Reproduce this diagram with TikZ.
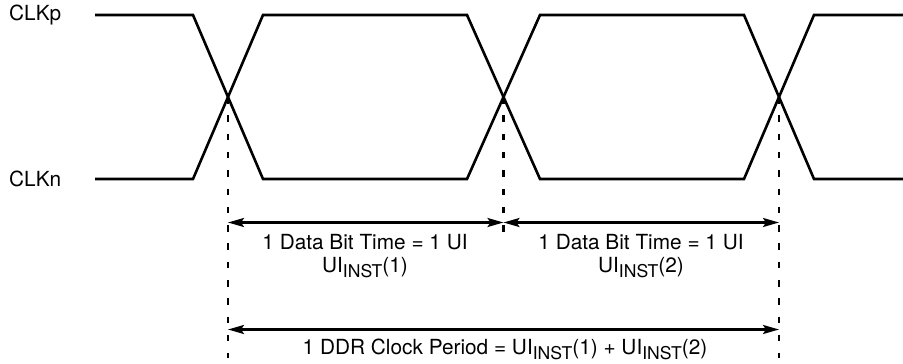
\documentclass[tikz,border=0pt]{standalone}
\usepackage{fontspec}
\setmainfont{TeX Gyre Heros}
\usetikzlibrary{arrows.meta}
\newcommand{\subtxt}[1]{\raisebox{-0.25em}{\fontsize{17.6}{18}\selectfont #1}}
\begin{document}
\begin{tikzpicture}[x=1pt,y=-1pt,
  wave/.style={line width=2.6pt, line join=miter},
  guide/.style={line width=2.4pt, dash pattern=on 6.5pt off 11.8pt},
  tipa/.tip={Stealth[length=16pt,width=9pt,inset=3pt]},
  dimline/.style={line width=2.3pt, tipa-tipa},
  lbl/.style={font=\fontsize{20.8}{24}\selectfont, inner sep=0pt}]
\useasboundingbox (0,0) rectangle (903,364);

% crossing points
\coordinate (c1) at (228,97);
\coordinate (c2) at (503.5,97);
\coordinate (c3) at (779,97);

% signal labels
\node[lbl, anchor=west] (clkp) at (9,15) {CLKp};
\node[lbl, anchor=west] (clkn) at (9,179) {CLKn};

% waveforms
\draw[wave] (95,15) -- (193,15) -- (263,179) -- (467,179) -- (540,15) -- (744,15) -- (814,179) -- (903,179);
\draw[wave] (95,179) -- (193,179) -- (263,15) -- (467,15) -- (540,179) -- (744,179) -- (814,15) -- (903,15);

% guide lines
\coordinate (g1) at (228,358);
\coordinate (g2) at (503.5,238);
\coordinate (g3) at (779,358);
\draw[guide] (c1) -- (g1);
\draw[guide] (c2) -- (g2);
\draw[guide] (c3) -- (g3);

% dimension arrows
\coordinate (a1l) at (228,222.5);
\coordinate (a1m) at (503.5,222.5);
\coordinate (a1r) at (779,222.5);
\coordinate (a2l) at (228,329.5);
\coordinate (a2r) at (779,329.5);
\draw[dimline] (a1l) -- (a1m);
\draw[dimline] (a1m) -- (a1r);
\draw[dimline] (a2l) -- (a2r);

% texts
\node[lbl, anchor=base] (t1a) at (365,249.3) {1 Data Bit Time = 1 UI};
\node[lbl, anchor=base] (t1b) at (365,272.7) {UI\subtxt{INST}(1)};
\node[lbl, anchor=base] (t2a) at (641,249.3) {1 Data Bit Time = 1 UI};
\node[lbl, anchor=base] (t2b) at (641,272.7) {UI\subtxt{INST}(2)};
\node[lbl, anchor=base] (t3) at (505,354) {1 DDR Clock Period = UI\subtxt{INST}(1) + UI\subtxt{INST}(2)};
\end{tikzpicture}
\end{document}
